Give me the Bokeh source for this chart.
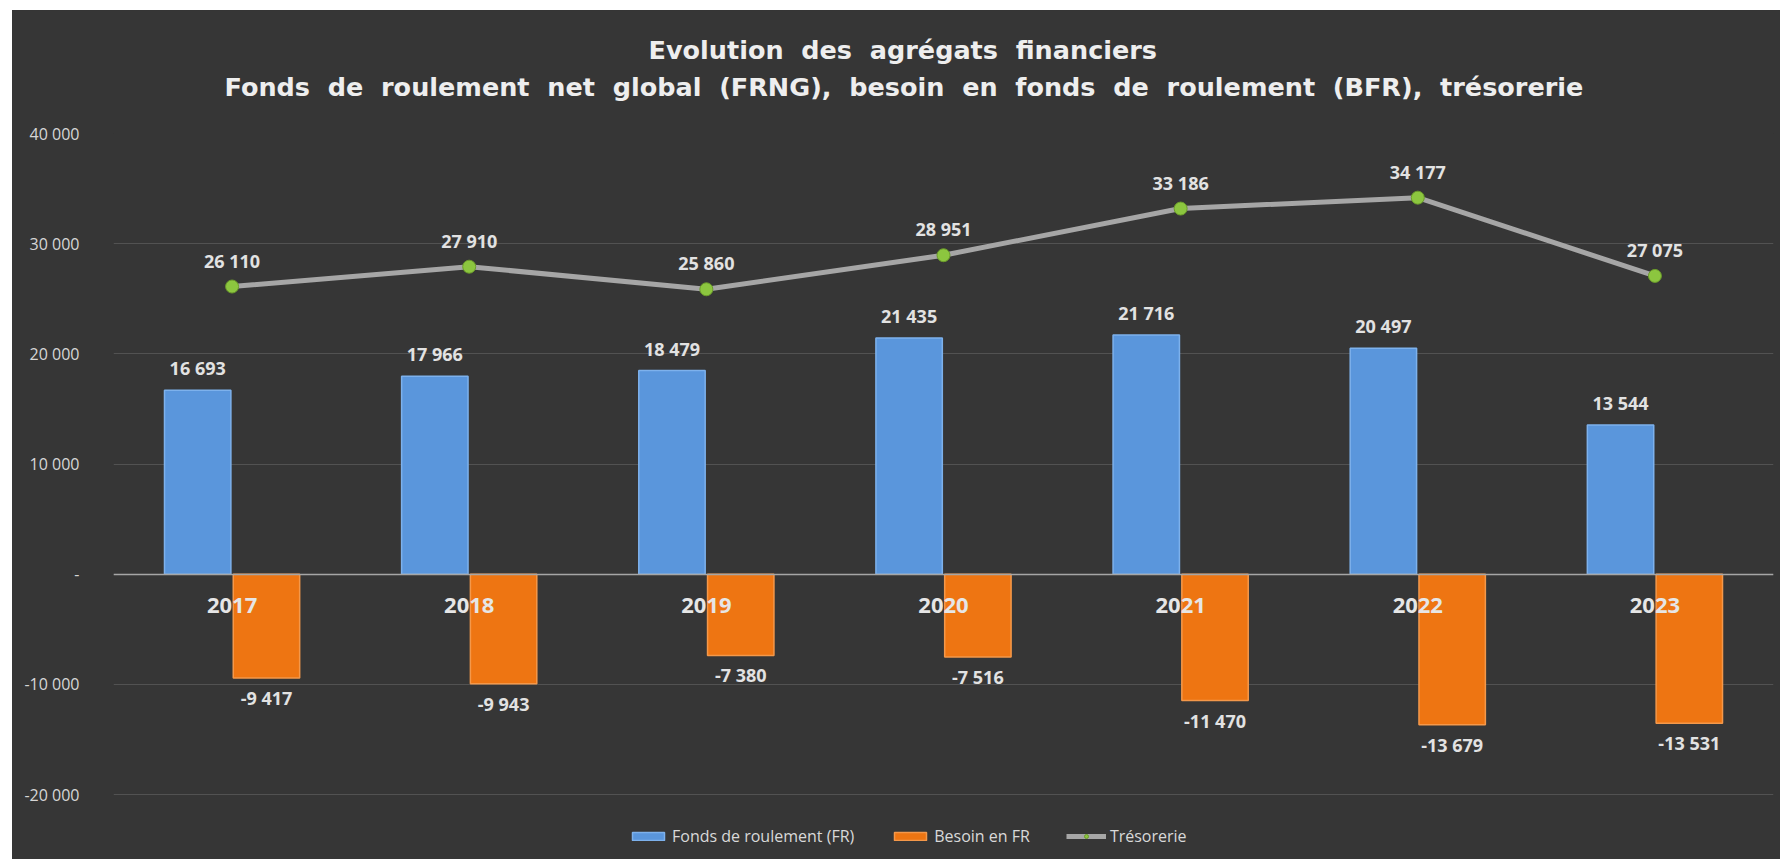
from bokeh.plotting import figure
from bokeh.models import (FactorRange, Range1d, FixedTicker, Legend, LegendItem,
                          Title, ColumnDataSource, Spacer)
from bokeh.layouts import row, column
from bokeh.transform import dodge
from bokeh.core.properties import value
from bokeh.embed import file_html
from bokeh.resources import INLINE

# ---------------- data ----------------
years = ["2017", "2018", "2019", "2020", "2021", "2022", "2023"]
fonds_roulement = [16693, 17966, 18479, 21435, 21716, 20497, 13544]
besoin_fr = [-9417, -9943, -7380, -7516, -11470, -13679, -13531]
tresorerie = [26110, 27910, 25860, 28951, 33186, 34177, 27075]

y_ticks = [-20000, -10000, 0, 10000, 20000, 30000, 40000]
y_tick_labels = ["-20 000", "-10 000", "-", "10 000", "20 000", "30 000", "40 000"]

series_names = ["Fonds de roulement (FR)", "Besoin en FR", "Trésorerie"]
title_line1 = "Evolution  des  agrégats  financiers"
title_line2 = ("Fonds  de  roulement  net  global  (FRNG),  besoin  en  fonds  de  "
               "roulement  (BFR),  trésorerie")


def fmt(v):
    return f"{v:,}".replace(",", " ")


def wide(s):
    # keep the wide word spacing of the original title (double spaces)
    return s.replace("  ", "\u00a0 ")


src = ColumnDataSource(dict(
    year=years,
    fr=fonds_roulement,
    bfr=besoin_fr,
    treso=tresorerie,
    fr_lbl=[fmt(v) for v in fonds_roulement],
    bfr_lbl=[fmt(v) for v in besoin_fr],
    treso_lbl=[fmt(v) for v in tresorerie],
))

BG = "#363636"
FONT = "Open Sans"
LABEL_COLOR = "#e2e2e2"

p = figure(
    x_range=FactorRange(*years),
    y_range=Range1d(-25900, 40000),
    frame_width=1660, frame_height=726,
    output_backend="svg", toolbar_location=None,
    title=None,
    min_border_left=101, min_border_right=7,
    min_border_top=123, min_border_bottom=0,
    background_fill_color=BG, border_fill_color=BG,
    outline_line_color=None,
)
p.outline_line_alpha = 0
p.styles = {"background-color": BG}

# titles (first added is closest to the plot)
p.add_layout(Title(text=wide(title_line2), align="left", text_font="DejaVu Sans",
                   text_font_size="25.5px", text_font_style="bold",
                   text_color="#eeeeee", standoff=63, offset=111), "above")
p.add_layout(Title(text=wide(title_line1), align="left", text_font="DejaVu Sans",
                   text_font_size="25.5px", text_font_style="bold",
                   text_color="#eeeeee", standoff=-53, offset=535), "above")

# bars
r_fr = p.vbar(x=dodge("year", -0.145, range=p.x_range), top="fr", bottom=0,
              width=0.28, source=src, fill_color="#5a96dc",
              line_color="#7db1ec", line_width=1.5)
r_bfr = p.vbar(x=dodge("year", 0.145, range=p.x_range), top=0, bottom="bfr",
               width=0.28, source=src, fill_color="#ee7512",
               line_color="#f4984a", line_width=1.5)

# line
r_line = p.line(x="year", y="treso", source=src, line_color="#a6a6a6",
                line_width=5)
r_pts = p.scatter(x="year", y="treso", source=src, size=13,
                  fill_color="#8cc63f", line_color="#6b9b2b", line_width=1)

# data labels
p.text(x=dodge("year", -0.145, range=p.x_range), y="fr", text="fr_lbl",
       source=src, text_align="center", text_baseline="bottom", y_offset=-10,
       text_font=value(FONT), text_font_size="18px", text_font_style="bold",
       text_color=LABEL_COLOR)
p.text(x=dodge("year", 0.145, range=p.x_range), y="bfr", text="bfr_lbl",
       source=src, text_align="center", text_baseline="top", y_offset=8,
       text_font=value(FONT), text_font_size="18px", text_font_style="bold",
       text_color=LABEL_COLOR)
p.text(x="year", y="treso", text="treso_lbl", source=src,
       text_align="center", text_baseline="bottom", y_offset=-14,
       text_font=value(FONT), text_font_size="18px", text_font_style="bold",
       text_color=LABEL_COLOR)

# axes
p.xaxis.fixed_location = 0
p.xaxis.axis_line_color = "#a6a6a6"
p.xaxis.axis_line_width = 1.5
p.xaxis.major_tick_line_color = None
p.xaxis.minor_tick_line_color = None
p.xaxis.major_label_standoff = 18
p.xaxis.major_label_text_font = FONT
p.xaxis.major_label_text_font_size = "22px"
p.xaxis.major_label_text_font_style = "bold"
p.xaxis.major_label_text_color = "#e6e6e6"

p.yaxis.ticker = FixedTicker(ticks=y_ticks)
p.yaxis.major_label_overrides = {t: l for t, l in zip(y_ticks, y_tick_labels)}
p.yaxis.axis_line_color = None
p.yaxis.major_tick_line_color = None
p.yaxis.minor_tick_line_color = None
p.yaxis.major_label_standoff = 28
p.yaxis.major_label_text_font = FONT
p.yaxis.major_label_text_font_size = "16px"
p.yaxis.major_label_text_color = "#d6d6d6"

p.xgrid.grid_line_color = None
p.ygrid.grid_line_color = "#525252"
p.ygrid.grid_line_width = 1

legend = Legend(items=[
    LegendItem(label=series_names[0], renderers=[r_fr]),
    LegendItem(label=series_names[1], renderers=[r_bfr]),
    LegendItem(label=series_names[2], renderers=[r_line, r_pts]),
], orientation="horizontal", location=(511, 8),
    background_fill_alpha=0, border_line_alpha=0,
    label_text_font=FONT, label_text_font_size="16px",
    label_text_color="#d9d9d9", glyph_width=40, glyph_height=10,
    spacing=36, label_standoff=4, margin=0, padding=4)
p.add_layout(legend, "center")

layout = row(Spacer(width=12, height=859), column(Spacer(width=1768, height=10), p))

open("out.html", "w").write(file_html(layout, INLINE))
